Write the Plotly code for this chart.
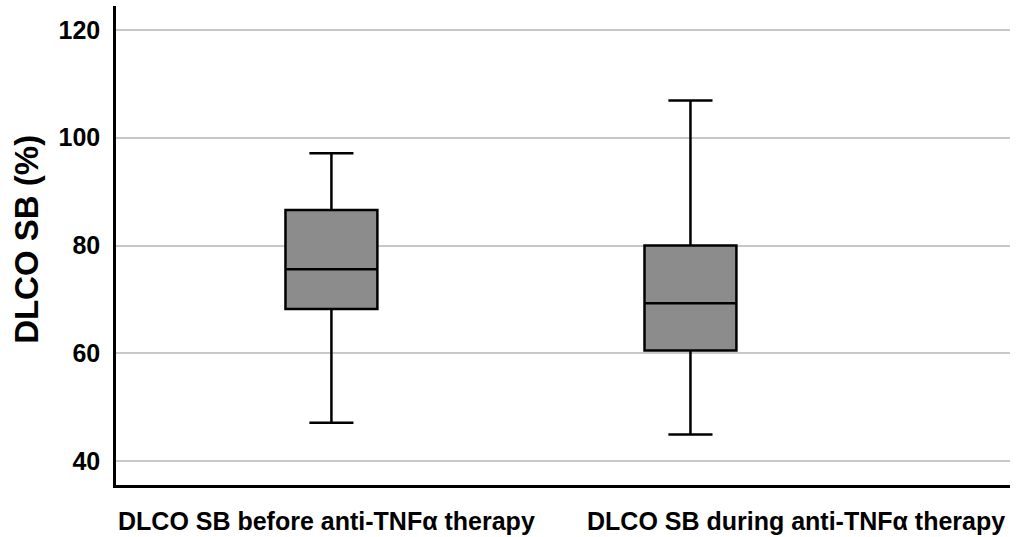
import plotly.graph_objects as go

categories = ["DLCO SB before anti-TNF\u03b1 therapy", "DLCO SB during anti-TNF\u03b1 therapy"]
positions = [0, 1]
lower_fence = [47.1, 44.9]
q1_vals = [68.2, 60.5]
median_vals = [75.6, 69.3]
q3_vals = [86.6, 80.0]
upper_fence = [97.1, 106.9]
y_ticks = [40, 60, 80, 100, 120]

FONT = "Liberation Sans, Arial, sans-serif"

fig = go.Figure()
fig.add_trace(go.Box(
    x=positions,
    q1=q1_vals, median=median_vals, q3=q3_vals,
    lowerfence=lower_fence, upperfence=upper_fence,
    width=0.256, whiskerwidth=0.48,
    fillcolor="#8c8c8c",
    line=dict(color="black", width=2.5),
    boxpoints=False, hoverinfo="skip", showlegend=False,
))

fig.update_layout(
    width=1020, height=537,
    margin=dict(l=116, r=10, t=6, b=52),
    paper_bgcolor="white", plot_bgcolor="white",
    showlegend=False,
    xaxis=dict(range=[-0.6, 1.89], showgrid=False, zeroline=False,
               showticklabels=False, ticks="",
               showline=True, linecolor="black", linewidth=2.5),
    yaxis=dict(range=[35.55, 124.45], tickvals=y_ticks,
               showgrid=True, gridcolor="#c8c8c8", gridwidth=2,
               zeroline=False, ticks="", ticklabelstandoff=8,
               showline=True, linecolor="black", linewidth=2.5,
               tickfont=dict(family=FONT, size=25, color="black", weight="bold")),
)

label_left = [0.0, 0.525]
for cat, lx in zip(categories, label_left):
    fig.add_annotation(text=cat, xref="paper", yref="paper", x=lx, y=-0.075,
                       xanchor="left", yanchor="middle", showarrow=False,
                       font=dict(family=FONT, size=25, color="black", weight="bold"))

fig.add_annotation(text="DLCO SB (%)", xref="paper", yref="paper", x=-0.1, y=0.513,
                   textangle=-90, xanchor="center", yanchor="middle", showarrow=False,
                   font=dict(family=FONT, size=33, color="black", weight="bold"))

fig.write_html("out.html", config={"displayModeBar": False},
               post_script="document.body.style.margin='0';")
